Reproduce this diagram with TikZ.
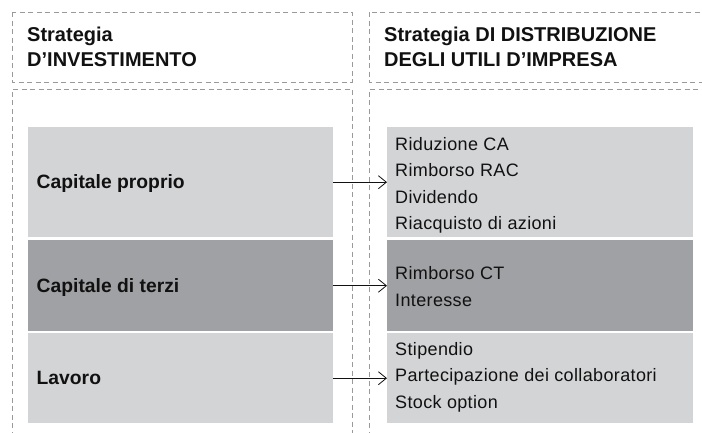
\documentclass[tikz,border=0pt]{standalone}
\usepackage{fontspec}
\setmainfont{Liberation Sans}
\newfontfamily\listfont[LetterSpace=2]{Liberation Sans}
\usetikzlibrary{arrows.meta}
\definecolor{lightbox}{HTML}{D3D4D6}
\definecolor{darkbox}{HTML}{A0A1A4}
\definecolor{dashgray}{HTML}{9A9A9A}
\definecolor{ink}{HTML}{111111}
\begin{document}
\begin{tikzpicture}[x=1pt,y=-1pt,
  frame/.style={draw=dashgray, line width=0.7pt, dash pattern=on 5pt off 3.5pt},
  band/.style={draw=none, inner sep=0pt, anchor=north west},
  head/.style={anchor=base west, align=left, inner sep=0pt, font=\fontsize{20}{25}\selectfont\bfseries, text=ink},
  lbl/.style={anchor=base west, inner sep=0pt, font=\fontsize{19.3}{23}\selectfont\bfseries, text=ink},
  items/.style={anchor=base west, align=left, inner sep=0pt, font=\listfont\fontsize{18}{26.5}\selectfont, text=ink},
  link/.style={-{Straight Barb[length=8pt,width=13pt]}, line width=0.8pt, draw=ink}]
\useasboundingbox (0,0) rectangle (702,432);
\clip (0,0) rectangle (702,432);
\fill[white] (0,0) rectangle (702,432);

% dashed frames
\draw[frame] (12,12) rectangle (352,82);
\draw[frame] (12,445) -- (12,89) -- (352,89) -- (352,445);
\draw[frame] (369,12) rectangle (715,82);
\draw[frame] (369,445) -- (369,89) -- (715,89);

% headings (base = last line)
\node[head] (hL) at (27,66.7) {Strategia\\D’INVESTIMENTO};
\node[head] (hR) at (384,66.7) {Strategia DI DISTRIBUZIONE\\DEGLI UTILI D’IMPRESA};

% left bands
\node[band, fill=lightbox, minimum width=305pt, minimum height=110pt] (L1) at (28,127) {};
\node[band, fill=darkbox,  minimum width=305pt, minimum height=91pt]  (L2) at (28,240) {};
\node[band, fill=lightbox, minimum width=305pt, minimum height=90pt]  (L3) at (28,333) {};

% right bands
\node[band, fill=lightbox, minimum width=306pt, minimum height=110pt] (R1) at (387,127) {};
\node[band, fill=darkbox,  minimum width=306pt, minimum height=91pt]  (R2) at (387,240) {};
\node[band, fill=lightbox, minimum width=306pt, minimum height=90pt]  (R3) at (387,333) {};

% left labels
\node[lbl] (t1) at (36.5,188.5) {Capitale proprio};
\node[lbl] (t2) at (36.5,292) {Capitale di terzi};
\node[lbl] (t3) at (36.5,384.5) {Lavoro};

% right lists (base = last line)
\node[items] (i1) at (395,229.5) {Riduzione CA\\Rimborso RAC\\Dividendo\\Riacquisto di azioni};
\node[items] (i2) at (395,306) {Rimborso CT\\Interesse};
\node[items] (i3) at (395,408) {Stipendio\\Partecipazione dei collaboratori\\Stock option};

% arrows
\draw[link] (L1.east) -- (R1.west);
\draw[link] (L2.east) -- (R2.west);
\draw[link] (L3.east) -- (R3.west);
\end{tikzpicture}
\end{document}
